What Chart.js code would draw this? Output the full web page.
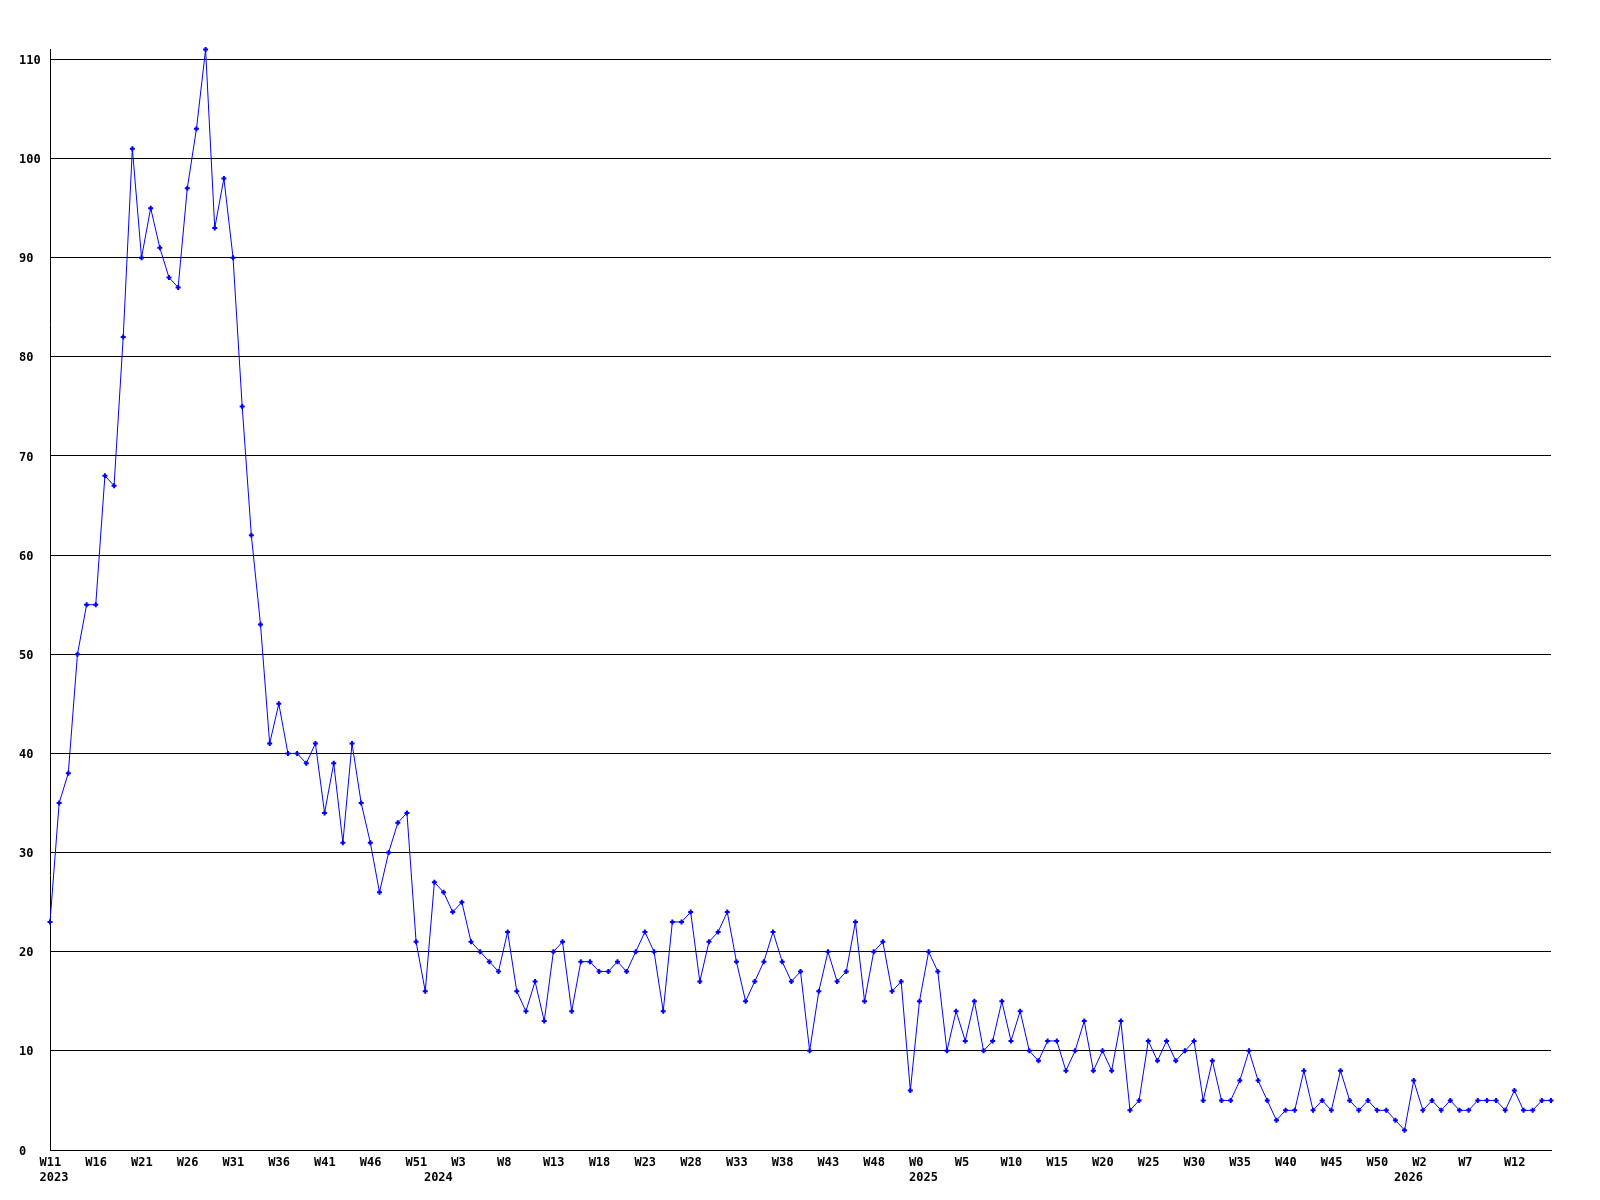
<!DOCTYPE html>
<html>
<head>
<meta charset="UTF-8">
<title>Weekly count</title>
<script src="https://cdn.jsdelivr.net/npm/chart.js"></script>
<style>
  html, body { margin: 0; padding: 0; background: #fff; }
  canvas { display: block; }
</style>
</head>
<body>
<canvas id="chart" width="1600" height="1200"></canvas>
<script>
  // week labels per year, as the source chart names them
  const weeks2023 = ["W11","W12","W13","W14","W15","W16","W17","W18","W19","W20",
    "W21","W22","W23","W24","W25","W26","W27","W28","W29","W30",
    "W31","W32","W33","W34","W35","W36","W37","W38","W39","W40",
    "W41","W42","W43","W44","W45","W46","W47","W48","W49","W50","W51","W52"];
  const weeks2024 = ["W0","W1","W2","W3","W4","W5","W6","W7","W8","W9","W10",
    "W11","W12","W13","W14","W15","W16","W17","W18","W19","W20",
    "W21","W22","W23","W24","W25","W26","W27","W28","W29","W30",
    "W31","W32","W33","W34","W35","W36","W37","W38","W39","W40",
    "W41","W42","W43","W44","W45","W46","W47","W48","W49","W50","W51","W52"];
  const weeks2025 = weeks2024.slice();
  const weeks2026 = ["W0","W1","W2","W3","W4","W5","W6","W7","W8","W9","W10",
    "W11","W12","W13","W14","W15","W16"];

  const counts2023 = [23,35,38,50,55,55,68,67,82,101,90,95,91,88,87,97,103,111,93,98,
    90,75,62,53,41,45,40,40,39,41,34,39,31,41,35,31,26,30,33,34,21,16];
  const counts2024 = [27,26,24,25,21,20,19,18,22,16,14,17,13,20,21,14,19,19,18,18,
    19,18,20,22,20,14,23,23,24,17,21,22,24,19,15,17,19,22,19,17,
    18,10,16,20,17,18,23,15,20,21,16,17,6];
  const counts2025 = [15,20,18,10,14,11,15,10,11,15,11,14,10,9,11,11,8,10,13,8,
    10,8,13,4,5,11,9,11,9,10,11,5,9,5,5,7,10,7,5,3,
    4,4,8,4,5,4,8,5,4,5,4,4,3];
  const counts2026 = [2,7,4,5,4,5,4,4,5,5,5,4,6,4,4,5,5];

  const years = ["2023", "2024", "2025", "2026"];
  const yTicks = [0,10,20,30,40,50,60,70,80,90,100,110];

  const weekSets = [weeks2023, weeks2024, weeks2025, weeks2026];
  const labels = [], yearStart = {};
  weekSets.forEach((ws, k) => {
    yearStart[labels.length] = years[k];
    ws.forEach(w => labels.push(w));
  });
  const values = counts2023.concat(counts2024, counts2025, counts2026);

  const tickFont = { family: "'DejaVu Sans Mono', monospace", size: 12, weight: 'bold', lineHeight: 1.25 };

  new Chart(document.getElementById('chart'), {
    type: 'line',
    data: {
      labels: labels,
      datasets: [{
        data: values,
        borderColor: '#0000ff',
        backgroundColor: '#0000ff',
        borderWidth: 1,
        tension: 0,
        pointStyle: 'cross',
        pointRadius: 2.5,
        pointBorderWidth: 2,
        pointBorderColor: '#0000ff',
        clip: false
      }]
    },
    options: {
      responsive: false,
      animation: false,
      layout: { padding: { left: 19, top: 49.5, right: 49, bottom: 0 } },
      plugins: { legend: { display: false }, tooltip: { enabled: false } },
      scales: {
        x: {
          offset: false,
          grid: { display: false, drawTicks: false },
          border: { display: true, color: '#000', width: 1 },
          ticks: {
            autoSkip: false,
            maxRotation: 0,
            minRotation: 0,
            align: 'start',
            labelOffset: -10.5,
            padding: 5,
            color: '#000',
            font: tickFont,
            callback: function (v, i) {
              const lines = [i % 5 === 0 ? labels[i] : ''];
              if (yearStart[i]) lines.push(yearStart[i]);
              return lines.length === 1 ? lines[0] : lines;
            }
          },
          afterFit: s => { s.height = 50; }
        },
        y: {
          min: 0,
          max: 111,
          grid: { color: '#000', lineWidth: 1, drawTicks: false },
          border: { display: true, color: '#000', width: 1 },
          afterBuildTicks: s => { s.ticks = yTicks.map(v => ({ value: v })); },
          ticks: {
            crossAlign: 'far',
            padding: 10,
            labelOffset: 1.5,
            color: '#000',
            font: tickFont
          },
          afterFit: s => { s.width = 31; }
        }
      }
    }
  });
</script>
</body>
</html>
